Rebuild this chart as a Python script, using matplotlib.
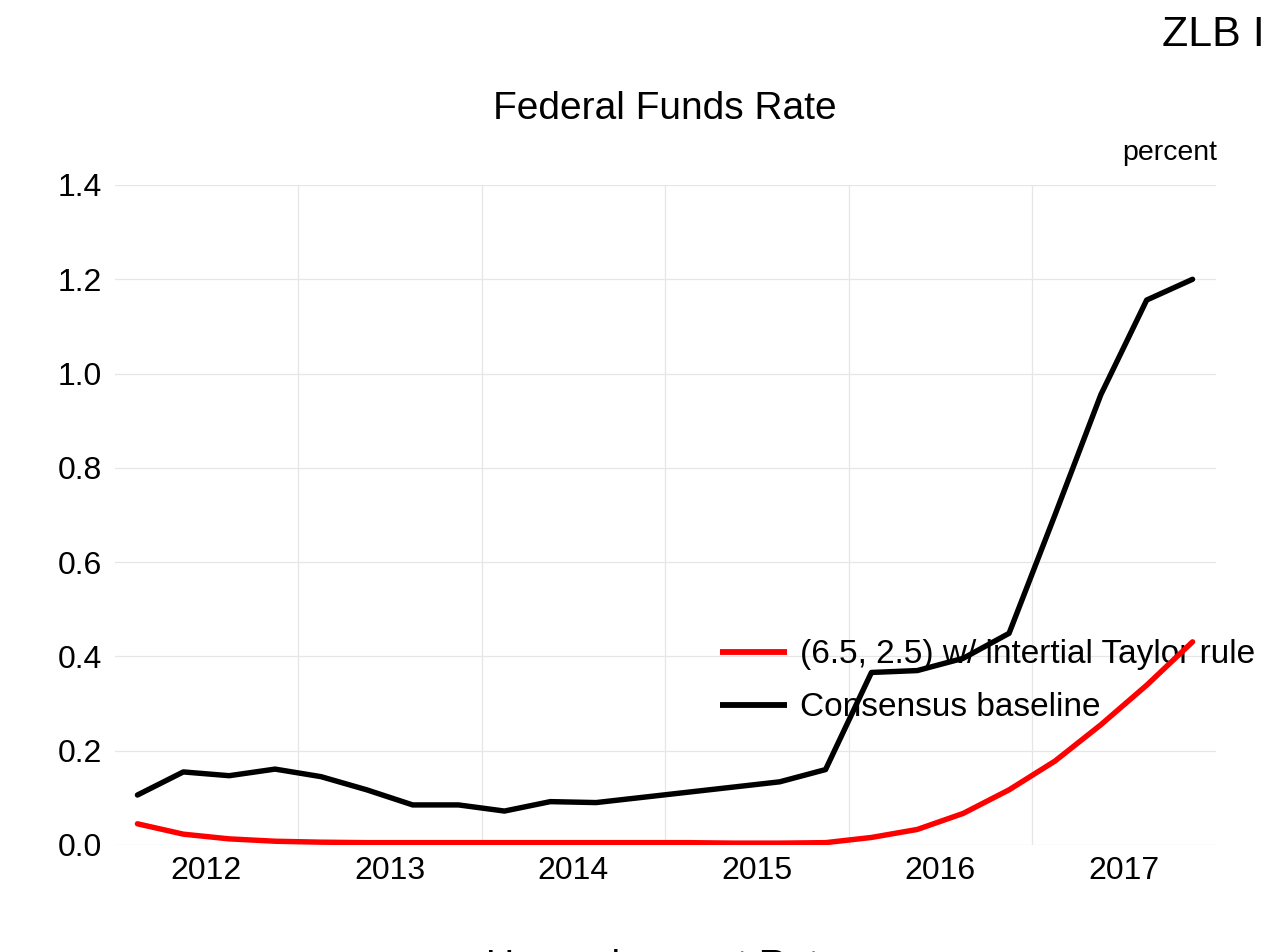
import matplotlib
matplotlib.use("Agg")
import matplotlib.pyplot as plt
import numpy as np

plt.rcParams['font.family'] = ['Liberation Sans', 'DejaVu Sans']

# Quarterly data 2012Q1 .. 2017Q4 (plotted at mid-quarter)
quarters = [f"{y}Q{q}" for y in range(2012, 2018) for q in range(1, 5)]
consensus = [0.106, 0.155, 0.147, 0.161, 0.145, 0.117, 0.085, 0.085,
             0.072, 0.092, 0.090, 0.101, 0.112, 0.123, 0.134, 0.160,
             0.366, 0.370, 0.396, 0.449, 0.700, 0.955, 1.156, 1.200]
taylor = [0.045, 0.023, 0.013, 0.008, 0.006, 0.005, 0.005, 0.005,
          0.005, 0.005, 0.005, 0.005, 0.005, 0.004, 0.004, 0.005,
          0.016, 0.033, 0.067, 0.117, 0.178, 0.255, 0.339, 0.431]
years = [2012, 2013, 2014, 2015, 2016, 2017]
yticks = [0.0, 0.2, 0.4, 0.6, 0.8, 1.0, 1.2, 1.4]
label_taylor = "(6.5, 2.5) w/ intertial Taylor rule"
label_consensus = "Consensus baseline"

t = np.array([int(q[:4]) + (int(q[-1]) - 1) * 0.25 + 0.125 for q in quarters])

fig = plt.figure(figsize=(12.7, 9.52), dpi=100)
ax = fig.add_axes([114.5 / 1270, 1 - 845 / 952, (1215.5 - 114.5) / 1270, (845 - 185) / 952])

ax.plot(t, taylor, color='#ff0000', lw=3.9, label=label_taylor, zorder=3,
        solid_capstyle='round', solid_joinstyle='round')
ax.plot(t, consensus, color='black', lw=3.9, label=label_consensus, zorder=3,
        solid_capstyle='round', solid_joinstyle='round')

ax.set_xlim(2012, 2018)
ax.set_ylim(0, 1.4)
ax.set_yticks(yticks)
ax.set_yticklabels([f"{v:.1f}" for v in yticks])
ax.set_xticks([y + 1 for y in years[:-1]])
ax.set_xticklabels([])
ax.set_xticks([y + 0.5 for y in years], minor=True)
ax.set_xticklabels([str(y) for y in years], minor=True)
ax.tick_params(axis='both', which='both', length=0, labelsize=23)
ax.tick_params(axis='y', pad=9)
ax.tick_params(axis='x', which='minor', pad=8)
ax.grid(True, which='major', color='#e6e6e6', lw=0.9)
ax.set_axisbelow(True)
for s in ax.spines.values():
    s.set_visible(False)

leg = ax.legend(loc='center left', bbox_to_anchor=((720 - 114.5) / 1101, (845 - 681.5) / 660),
                frameon=False, fontsize=24, handlelength=2.0, handletextpad=0.4,
                borderpad=0, borderaxespad=0, labelspacing=0.66)
for line in leg.get_lines():
    line.set_linewidth(4.2)
    line.set_solid_capstyle('butt')
leg.set_zorder(2)

fig.text(665 / 1270, 1 - 119 / 952, "Federal Funds Rate", ha='center', va='baseline', fontsize=28)
fig.text(1265 / 1270, 1 - 46 / 952, "ZLB I", ha='right', va='baseline', fontsize=31)
fig.text(1217 / 1270, 1 - 160 / 952, "percent", ha='right', va='baseline', fontsize=20.5)
fig.text(663 / 1270, 1 - 977 / 952, "Unemployment Rate", ha='center', va='baseline', fontsize=28)

fig.savefig("out.png", dpi=100)
